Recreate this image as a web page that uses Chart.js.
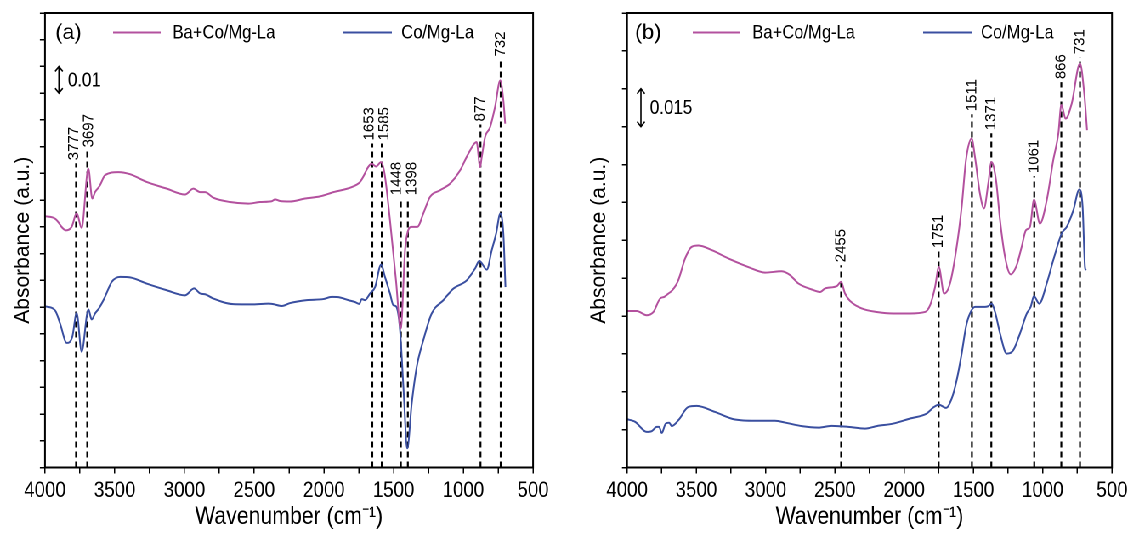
<!DOCTYPE html>
<html>
<head>
<meta charset="utf-8">
<script src="https://cdn.jsdelivr.net/npm/chart.js@4.4.0/dist/chart.umd.min.js"></script>
<style>
html, body { margin: 0; padding: 0; background: #fff; overflow: hidden; width: 1131px; height: 533px; }
/* the source figure is squeezed sideways, so draw wide and squeeze the whole thing */
#wrap { position: absolute; left: 0; top: 0; width: 1331px; height: 533px; transform: scaleX(0.85); transform-origin: 0 0; }
#wrap canvas { position: absolute; top: 0; }
</style>
</head>
<body>
<div id="wrap">
  <canvas id="chartA" width="682" height="533" style="left:0"></canvas>
  <canvas id="chartB" width="649" height="533" style="left:682px"></canvas>
</div>
<script>
var SQUEEZE = 0.85;

var xTicks = [4000, 3750, 3500, 3250, 3000, 2750, 2500, 2250, 2000, 1750, 1500, 1250, 1000, 750, 500];
var yTicksA = [0, 0.01, 0.02, 0.03, 0.04, 0.05, 0.06, 0.07, 0.08, 0.09, 0.10, 0.11, 0.12, 0.13, 0.14, 0.15, 0.16, 0.17];
var yTicksB = [0, 0.015, 0.03, 0.045, 0.06, 0.075, 0.09, 0.105, 0.12, 0.135, 0.15, 0.165, 0.18];

// (a) Ba+Co/Mg-La
var pinkWaveA = [4000, 3928, 3849, 3809, 3773, 3737, 3689, 3661, 3641, 3606, 3570, 3474, 3390, 3271, 3127, 2996, 2936, 2888, 2852, 2793, 2673, 2542, 2458, 2374, 2350, 2315, 2243, 2135, 2028, 1932, 1800, 1741, 1657, 1626, 1590, 1565, 1526, 1483, 1449, 1418, 1402, 1370, 1330, 1287, 1239, 1167, 1095, 1024, 964, 905, 880, 868, 844, 808, 773, 735, 713, 700];
var pinkAbsA = [0.0940, 0.0931, 0.0887, 0.0900, 0.0950, 0.0897, 0.1118, 0.1006, 0.1030, 0.1055, 0.1093, 0.1105, 0.1097, 0.1068, 0.1043, 0.1021, 0.1043, 0.1030, 0.1030, 0.1009, 0.0993, 0.0987, 0.0993, 0.0996, 0.1003, 0.0997, 0.0995, 0.1006, 0.1014, 0.1030, 0.1049, 0.1068, 0.1136, 0.1126, 0.1142, 0.1099, 0.0925, 0.0700, 0.0520, 0.0813, 0.0875, 0.0900, 0.0900, 0.0950, 0.1012, 0.1037, 0.1062, 0.1111, 0.1174, 0.1217, 0.1124, 0.1161, 0.1236, 0.1273, 0.1348, 0.1448, 0.1373, 0.1286];
// (a) Co/Mg-La
var blueWaveA = [4000, 3928, 3892, 3844, 3804, 3773, 3737, 3689, 3665, 3641, 3606, 3570, 3522, 3462, 3390, 3271, 3127, 2996, 2931, 2888, 2852, 2793, 2650, 2506, 2398, 2363, 2302, 2243, 2123, 2004, 1944, 1884, 1825, 1777, 1746, 1729, 1705, 1669, 1633, 1590, 1562, 1526, 1502, 1483, 1454, 1430, 1402, 1370, 1334, 1287, 1227, 1143, 1072, 976, 916, 885, 832, 796, 765, 735, 713, 698];
var blueAbsA = [0.0603, 0.0588, 0.0539, 0.0466, 0.0489, 0.0578, 0.0433, 0.0591, 0.0554, 0.0576, 0.0601, 0.0638, 0.0694, 0.0713, 0.0711, 0.0688, 0.0663, 0.0644, 0.0670, 0.0651, 0.0648, 0.0632, 0.0611, 0.0610, 0.0613, 0.0611, 0.0604, 0.0615, 0.0626, 0.0630, 0.0638, 0.0636, 0.0626, 0.0619, 0.0612, 0.0630, 0.0626, 0.0651, 0.0675, 0.0759, 0.0713, 0.0651, 0.0607, 0.0603, 0.0514, 0.0302, 0.0072, 0.0240, 0.0377, 0.0476, 0.0576, 0.0626, 0.0669, 0.0700, 0.0744, 0.0773, 0.0740, 0.0813, 0.0875, 0.0950, 0.0875, 0.0675];

// (b) Ba+Co/Mg-La
var pinkWaveB = [4000, 3930, 3858, 3810, 3762, 3731, 3702, 3673, 3630, 3581, 3533, 3485, 3389, 3269, 3125, 3004, 2884, 2824, 2764, 2667, 2607, 2571, 2487, 2456, 2427, 2391, 2306, 2198, 2078, 1958, 1849, 1813, 1777, 1750, 1712, 1669, 1621, 1585, 1554, 1513, 1489, 1453, 1424, 1393, 1370, 1337, 1308, 1272, 1231, 1188, 1152, 1121, 1092, 1063, 1020, 971, 924, 887, 866, 834, 791, 731, 700, 680];
var pinkAbsB = [0.0620, 0.0620, 0.0603, 0.0616, 0.0669, 0.0676, 0.0689, 0.0702, 0.0742, 0.0828, 0.0874, 0.0879, 0.0861, 0.0828, 0.0794, 0.0772, 0.0777, 0.0762, 0.0729, 0.0705, 0.0695, 0.0709, 0.0718, 0.0735, 0.0689, 0.0660, 0.0630, 0.0616, 0.0610, 0.0610, 0.0616, 0.0643, 0.0715, 0.0794, 0.0689, 0.0729, 0.0874, 0.1032, 0.1217, 0.1303, 0.1230, 0.1085, 0.1026, 0.1125, 0.1210, 0.1138, 0.0979, 0.0834, 0.0765, 0.0801, 0.0874, 0.0940, 0.0953, 0.1061, 0.0966, 0.1058, 0.1217, 0.1323, 0.1435, 0.1382, 0.1441, 0.1600, 0.1480, 0.1336];
// (b) Co/Mg-La
var blueWaveB = [4000, 3942, 3858, 3822, 3786, 3769, 3750, 3721, 3697, 3677, 3630, 3558, 3497, 3365, 3221, 3076, 2932, 2860, 2739, 2619, 2523, 2403, 2282, 2198, 2078, 1958, 1837, 1789, 1750, 1698, 1657, 1621, 1585, 1554, 1525, 1489, 1429, 1393, 1370, 1344, 1308, 1260, 1212, 1164, 1115, 1087, 1063, 1025, 971, 924, 863, 827, 779, 736, 712, 695, 688];
var blueAbsB = [0.0191, 0.0181, 0.0141, 0.0144, 0.0161, 0.0161, 0.0137, 0.0174, 0.0177, 0.0164, 0.0187, 0.0240, 0.0244, 0.0220, 0.0190, 0.0185, 0.0185, 0.0178, 0.0164, 0.0158, 0.0165, 0.0161, 0.0154, 0.0164, 0.0174, 0.0194, 0.0214, 0.0238, 0.0249, 0.0236, 0.0273, 0.0346, 0.0451, 0.0557, 0.0610, 0.0636, 0.0636, 0.0639, 0.0649, 0.0616, 0.0531, 0.0451, 0.0465, 0.0531, 0.0610, 0.0636, 0.0678, 0.0649, 0.0729, 0.0821, 0.0927, 0.0953, 0.1019, 0.1101, 0.1032, 0.0794, 0.0781];

// peak markers: wavenumber and how high the dashed line goes (absorbance units)
var markWaveA = [3777, 3697, 1653, 1585, 1448, 1398, 877, 732];
var markTopA = [0.1138, 0.1186, 0.1212, 0.1212, 0.1007, 0.1007, 0.1283, 0.1526];
var markWaveB = [2455, 1751, 1511, 1371, 1061, 866, 731];
var markTopB = [0.0801, 0.0857, 0.1399, 0.1324, 0.1154, 0.1526, 0.1625];

var seriesNames = ["Ba+Co/Mg-La", "Co/Mg-La"];
var PINK = "#b3519e", BLUE = "#3a4fa0";
var FONT = '"Liberation Sans", Arial, sans-serif';

function zip(xs, ys) {
    return xs.map(function (x, i) { return { x: x, y: ys[i] }; });
}

// text that should keep normal proportions despite the squeeze
function uprightText(ctx, text, x, y, rot, align) {
    ctx.save();
    ctx.translate(x, y);
    ctx.scale(1 / SQUEEZE, 1);
    ctx.rotate(rot);
    ctx.textAlign = align;
    ctx.fillText(text, 0, 0);
    ctx.restore();
}

var decorPlugin = {
    id: "decor",
    afterDatasetsDraw: function (chart, args, opts) {
        var ctx = chart.ctx, ca = chart.chartArea;
        var xs = chart.scales.x, ys = chart.scales.y;
        ctx.save();
        ctx.strokeStyle = "#000";
        ctx.lineWidth = 2;
        ctx.strokeRect(ca.left, ca.top, ca.right - ca.left, ca.bottom - ca.top);

        ctx.fillStyle = "#000";
        ctx.textBaseline = "middle";
        ctx.font = "21.5px " + FONT;
        uprightText(ctx, opts.panel, 65, 33, 0, "left");

        // y title
        ctx.font = "21px " + FONT;
        uprightText(ctx, "Absorbance (a.u.)", opts.titleX, (ca.top + ca.bottom) / 2, -Math.PI / 2, "center");

        // legend
        ctx.textAlign = "left";
        ctx.font = "19.5px " + FONT;
        ctx.lineWidth = 2;
        ctx.strokeStyle = PINK;
        ctx.beginPath(); ctx.moveTo(133, 32.5); ctx.lineTo(189, 32.5); ctx.stroke();
        ctx.fillText(seriesNames[0], 203, 33);
        ctx.strokeStyle = BLUE;
        ctx.beginPath(); ctx.moveTo(404, 32.5); ctx.lineTo(461, 32.5); ctx.stroke();
        ctx.fillText(seriesNames[1], 472, 33);

        // rotated peak labels above each dashed line, nudged apart when two lines sit close
        var minSep = 15 / SQUEEZE;
        var lx = opts.markWave.map(function (w) { return xs.getPixelForValue(w); });
        for (var k = 1; k < lx.length; k++) {
            if (lx[k] - lx[k - 1] < minSep) {
                var mid = (lx[k] + lx[k - 1]) / 2;
                lx[k - 1] = mid - minSep / 2;
                lx[k] = mid + minSep / 2;
            }
        }
        ctx.font = "15px " + FONT;
        for (var i = 0; i < opts.markWave.length; i++) {
            var py = ys.getPixelForValue(opts.markTop[i]) - 3;
            uprightText(ctx, String(opts.markWave[i]), lx[i], py, -Math.PI / 2, "left");
        }

        // scale bar
        var ax = xs.getPixelForValue(opts.barWave);
        var y1 = ys.getPixelForValue(opts.barTo), y2 = ys.getPixelForValue(opts.barFrom);
        ctx.strokeStyle = "#000";
        ctx.lineWidth = 1.6;
        ctx.beginPath();
        ctx.moveTo(ax, y1); ctx.lineTo(ax, y2);
        ctx.moveTo(ax - 4.5, y1 + 5); ctx.lineTo(ax, y1); ctx.lineTo(ax + 4.5, y1 + 5);
        ctx.moveTo(ax - 4.5, y2 - 5); ctx.lineTo(ax, y2); ctx.lineTo(ax + 4.5, y2 - 5);
        ctx.stroke();
        ctx.font = "20px " + FONT;
        ctx.textAlign = "left";
        ctx.fillText(opts.barText, ax + 10.5, (y1 + y2) / 2 + 1);
        ctx.restore();
    }
};

function makeChart(id, cfg) {
    var datasets = [
        { data: zip(cfg.pinkW, cfg.pinkA), borderColor: PINK, borderWidth: 2, pointRadius: 0, fill: false, cubicInterpolationMode: "monotone", order: 0 },
        { data: zip(cfg.blueW, cfg.blueA), borderColor: BLUE, borderWidth: 2, pointRadius: 0, fill: false, cubicInterpolationMode: "monotone", order: 1 }
    ];
    cfg.markWave.forEach(function (w, i) {
        datasets.push({ data: [{ x: w, y: 0 }, { x: w, y: cfg.markTop[i] }], borderColor: "#000", borderWidth: 2.2, borderDash: [6, 4], pointRadius: 0, fill: false, order: 2 });
    });

    return new Chart(document.getElementById(id), {
        type: "line",
        data: { datasets: datasets },
        options: {
            responsive: false, animation: false, devicePixelRatio: 2,
            layout: { padding: { left: 0, top: 13, right: cfg.padRight, bottom: 0 } },
            plugins: {
                legend: { display: false }, tooltip: { enabled: false },
                decor: { panel: cfg.panel, markWave: cfg.markWave, markTop: cfg.markTop, titleX: cfg.titleX,
                         barWave: 3900, barFrom: cfg.barFrom, barTo: cfg.barTo, barText: cfg.barText }
            },
            scales: {
                x: {
                    type: "linear", reverse: true, min: 500, max: 4000,
                    afterBuildTicks: function (s) { s.ticks = xTicks.map(function (v) { return { value: v }; }); },
                    afterFit: function (s) { s.height = 65.5; },
                    border: { display: false },
                    grid: { drawOnChartArea: false, drawTicks: true, tickLength: 6, color: "#000", lineWidth: 1.5 },
                    ticks: {
                        autoSkip: false, maxRotation: 0, padding: 4, color: "#000", font: { size: 22, family: FONT },
                        callback: function (v) { return v % 500 === 0 ? String(v) : ""; }
                    },
                    title: { display: true, text: "Wavenumber (cm\u207B\u00B9)", color: "#000", font: { size: 25, family: FONT }, padding: { top: 0, bottom: 1 } }
                },
                y: {
                    min: 0, max: cfg.yTicks[cfg.yTicks.length - 1],
                    afterBuildTicks: function (s) { s.ticks = cfg.yTicks.map(function (v) { return { value: v }; }); },
                    afterFit: function (s) { s.width = cfg.axisW; },
                    border: { display: false },
                    grid: { drawOnChartArea: false, drawTicks: true, tickLength: 6, color: "#000", lineWidth: 1.5 },
                    ticks: { callback: function () { return ""; } }
                }
            }
        },
        plugins: [decorPlugin]
    });
}

makeChart("chartA", {
    panel: "(a)", pinkW: pinkWaveA, pinkA: pinkAbsA, blueW: blueWaveA, blueA: blueAbsA,
    markWave: markWaveA, markTop: markTopA, yTicks: yTicksA,
    barFrom: 0.14, barTo: 0.15, barText: "0.01",
    axisW: 52.9, padRight: 54.9, titleX: 27
});
makeChart("chartB", {
    panel: "(b)", pinkW: pinkWaveB, pinkA: pinkAbsB, blueW: blueWaveB, blueA: blueAbsB,
    markWave: markWaveB, markTop: markTopB, yTicks: yTicksB,
    barFrom: 0.135, barTo: 0.15, barText: "0.015",
    axisW: 55.7, padRight: 22.8, titleX: 23
});
</script>
</body>
</html>
